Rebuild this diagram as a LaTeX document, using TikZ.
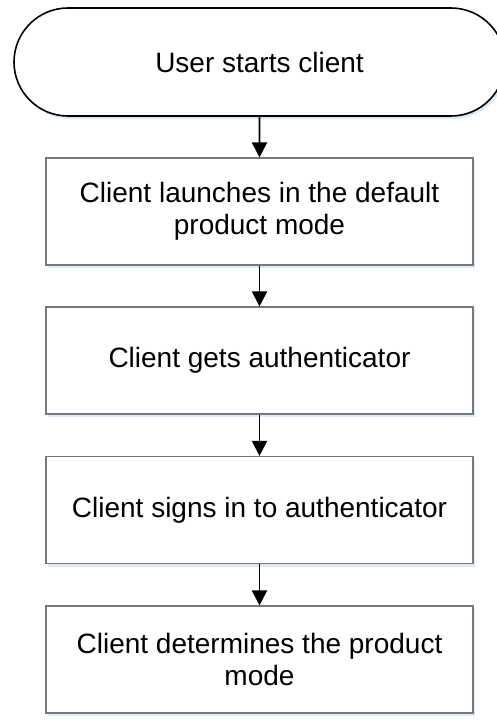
\documentclass[tikz,border=0pt]{standalone}
\usepackage{fontspec}
\setmainfont{Liberation Sans}
\usetikzlibrary{shapes.misc,arrows.meta,shadows}
\definecolor{shadowblue}{RGB}{214,228,246}
\definecolor{boxgray}{RGB}{120,120,120}
\begin{document}
\begin{tikzpicture}[x=1pt,y=-1pt,
  every node/.style={font=\fontsize{28pt}{32.5pt}\selectfont, inner sep=0pt, align=center},
  termbox/.style={rounded rectangle, draw=black, line width=1.6pt, fill=white,
    minimum width=491pt, minimum height=108pt,
    drop shadow={shadow xshift=2pt, shadow yshift=-3pt, fill=shadowblue, opacity=0.8}},
  stepbox/.style={rectangle, draw=boxgray, line width=1.1pt, fill=white,
    minimum width=427pt, minimum height=107pt,
    drop shadow={shadow xshift=2pt, shadow yshift=-3pt, fill=shadowblue, opacity=0.8}},
  flow/.style={line width=1.8pt, -{Triangle[width=15pt,length=15pt]}}]
\useasboundingbox (0,0) rectangle (496,723);
\node[termbox] (start) at (259.5,62) {User starts client};
\node[stepbox] (launch) at (259.5,211.5) {Client launches in the default\\product mode};
\node[stepbox] (gets) at (259.5,360.5) {Client gets authenticator};
\node[stepbox] (signs) at (259.5,510) {Client signs in to authenticator};
\node[stepbox] (mode) at (259.5,659.5) {Client determines the product\\mode};
\draw[flow] (start) -- (launch);
\draw[flow] (launch) -- (gets);
\draw[flow] (gets) -- (signs);
\draw[flow] (signs) -- (mode);
\end{tikzpicture}
\end{document}
